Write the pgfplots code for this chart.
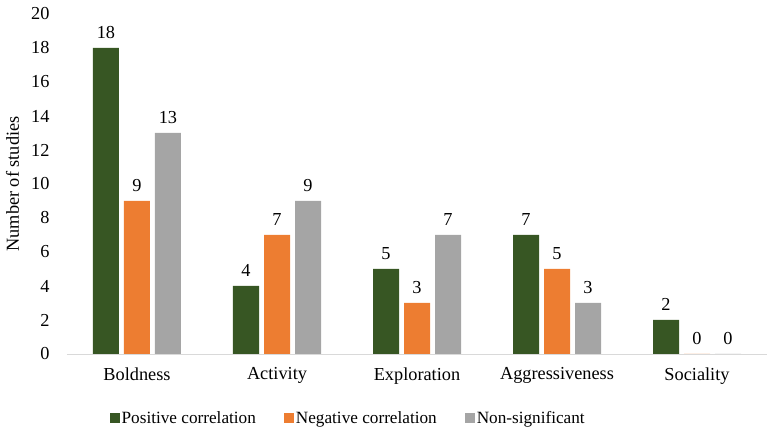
\documentclass[border=0pt]{standalone}
\usepackage{pgfplots}
\pgfplotsset{compat=1.18}
\usepackage{fontspec}
\setmainfont{Liberation Serif}

\definecolor{posgreen}{HTML}{375623}
\definecolor{negorange}{HTML}{ED7D31}
\definecolor{nsgray}{HTML}{A5A5A5}
\definecolor{axisgray}{HTML}{D9D9D9}

\begin{document}
\begin{tikzpicture}[font=\fontsize{18.3}{21}\selectfont]
\useasboundingbox (-67pt,-84pt) rectangle (709pt,354pt);
\begin{axis}[
  scale only axis,
  width=700pt, height=340pt,
  at={(0pt,0pt)}, anchor=south west,
  ybar,
  bar width=26pt,
  ymin=0, ymax=20,
  ytick={0,2,...,20},
  xmin=-0.5, xmax=4.5,
  xtick=data,
  xticklabels={Boldness,Activity,Exploration,Aggressiveness,Sociality},
  axis x line=bottom,
  axis y line=left,
  x axis line style={draw=axisgray, line width=0.9pt, -},
  y axis line style={draw=none, -},
  major tick length=0pt,
  /pgf/number format/assume math mode=true,
  yticklabel style={xshift=-14pt},
  xticklabel style={yshift=-10pt},
  ylabel={Number of studies},
  every axis y label/.style={at={(axis description cs:-0.078,0.5)}, rotate=90, anchor=center},
  nodes near coords,
  every node near coord/.append style={yshift=6pt, black},
  legend columns=-1,
  legend style={
    draw=none, fill=none,
    font=\fontsize{17.2}{20}\selectfont,
    at={(axis description cs:0.0614,-0.188)}, anchor=west,
    inner sep=0pt,
    nodes={inner xsep=1.5pt},
    /tikz/every even column/.append style={column sep=27pt},
  },
  legend image code/.code={\path[#1,draw=none] (0pt,-5pt) rectangle (10pt,5pt);},
]
\addplot[fill=posgreen, draw=none, bar shift=-31pt] coordinates {(0,18) (1,4) (2,5) (3,7) (4,2)};
\addplot[fill=negorange, draw=none, bar shift=0pt] coordinates {(0,9) (1,7) (2,3) (3,5) (4,0)};
\addplot[fill=nsgray, draw=none, bar shift=31pt] coordinates {(0,13) (1,9) (2,7) (3,3) (4,0)};
\legend{Positive correlation, Negative correlation, Non-significant}
\end{axis}
\end{tikzpicture}
\end{document}
